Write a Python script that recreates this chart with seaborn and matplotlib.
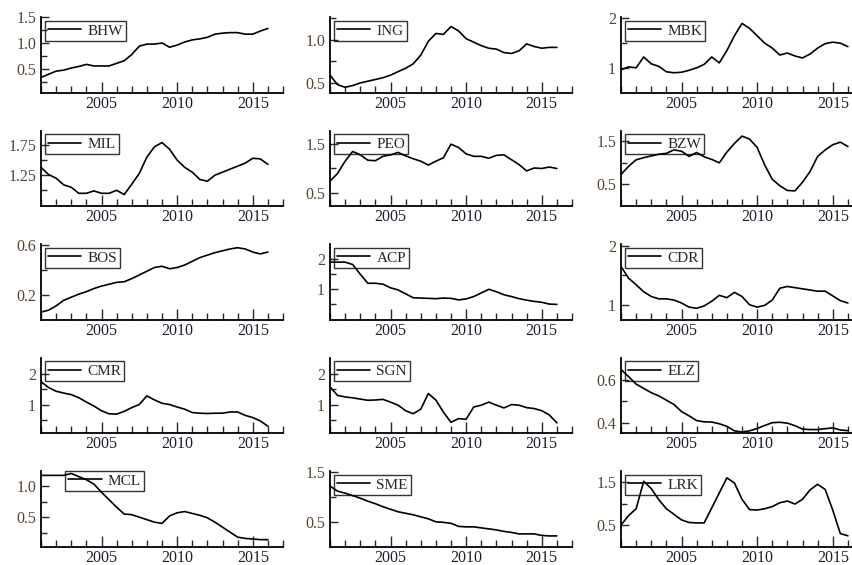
import numpy as np
import pandas as pd
import matplotlib
matplotlib.use("Agg")
import matplotlib.pyplot as plt
from matplotlib.ticker import MultipleLocator
import seaborn as sns

sns.set_style("ticks")
plt.rcParams['font.family'] = ['Liberation Serif', 'DejaVu Serif']

# half-year sampling, 2001 - 2016
years = np.arange(2001.0, 2016.01, 0.5)

BHW = [0.34, 0.40, 0.46, 0.48, 0.52, 0.55, 0.59, 0.56, 0.56, 0.56, 0.61, 0.66, 0.78, 0.94, 0.98, 0.98,
       1.00, 0.92, 0.96, 1.02, 1.06, 1.08, 1.11, 1.17, 1.19, 1.20, 1.20, 1.17, 1.17, 1.23, 1.28]
ING = [0.59, 0.48, 0.45, 0.47, 0.50, 0.52, 0.54, 0.56, 0.59, 0.63, 0.67, 0.72, 0.82, 0.98, 1.07, 1.06,
       1.15, 1.10, 1.01, 0.97, 0.93, 0.90, 0.89, 0.85, 0.84, 0.87, 0.95, 0.92, 0.90, 0.91, 0.91]
MBK = [0.96, 1.02, 1.00, 1.22, 1.08, 1.03, 0.92, 0.90, 0.91, 0.95, 1.00, 1.07, 1.22, 1.10, 1.35, 1.65,
       1.90, 1.80, 1.65, 1.50, 1.40, 1.26, 1.30, 1.24, 1.20, 1.28, 1.40, 1.49, 1.52, 1.50, 1.43]
MIL = [1.38, 1.26, 1.20, 1.09, 1.05, 0.95, 0.95, 0.99, 0.95, 0.95, 1.00, 0.93, 1.10, 1.28, 1.55, 1.72,
       1.79, 1.68, 1.50, 1.38, 1.30, 1.18, 1.15, 1.25, 1.30, 1.35, 1.40, 1.45, 1.53, 1.52, 1.43]
PEO = [0.74, 0.90, 1.15, 1.35, 1.28, 1.17, 1.16, 1.25, 1.28, 1.33, 1.26, 1.20, 1.15, 1.07, 1.15, 1.22,
       1.50, 1.43, 1.30, 1.25, 1.25, 1.21, 1.27, 1.28, 1.18, 1.08, 0.95, 1.01, 1.00, 1.03, 1.00]
BZW = [0.73, 0.92, 1.07, 1.12, 1.16, 1.20, 1.22, 1.30, 1.27, 1.15, 1.24, 1.14, 1.08, 1.00, 1.25, 1.45,
       1.62, 1.55, 1.36, 0.95, 0.62, 0.47, 0.36, 0.35, 0.55, 0.80, 1.15, 1.30, 1.42, 1.48, 1.38]
BOS = [0.06, 0.075, 0.11, 0.155, 0.18, 0.205, 0.225, 0.25, 0.27, 0.285, 0.30, 0.305, 0.33, 0.36, 0.39, 0.42,
       0.43, 0.41, 0.42, 0.44, 0.47, 0.50, 0.52, 0.54, 0.555, 0.57, 0.58, 0.57, 0.545, 0.53, 0.545]
ACP = [1.90, 1.90, 1.90, 1.82, 1.50, 1.20, 1.20, 1.17, 1.05, 0.98, 0.85, 0.72, 0.71, 0.70, 0.69, 0.71,
       0.70, 0.65, 0.68, 0.76, 0.88, 1.00, 0.92, 0.82, 0.76, 0.69, 0.64, 0.60, 0.57, 0.51, 0.50]
CDR = [1.65, 1.45, 1.34, 1.22, 1.14, 1.10, 1.10, 1.08, 1.03, 0.96, 0.94, 0.98, 1.06, 1.16, 1.12, 1.21,
       1.14, 1.00, 0.96, 0.99, 1.08, 1.28, 1.31, 1.29, 1.27, 1.25, 1.23, 1.23, 1.15, 1.07, 1.03]
CMR = [1.74, 1.55, 1.43, 1.37, 1.32, 1.22, 1.08, 0.95, 0.80, 0.70, 0.69, 0.78, 0.90, 1.00, 1.28, 1.15,
       1.04, 1.00, 0.92, 0.85, 0.74, 0.72, 0.71, 0.72, 0.72, 0.76, 0.76, 0.65, 0.58, 0.47, 0.30]
SGN = [1.58, 1.30, 1.25, 1.22, 1.18, 1.14, 1.15, 1.17, 1.08, 0.98, 0.80, 0.70, 0.85, 1.36, 1.15, 0.75,
       0.42, 0.54, 0.52, 0.92, 0.98, 1.08, 0.98, 0.89, 1.00, 0.98, 0.90, 0.87, 0.80, 0.66, 0.40]
ELZ = [0.648, 0.615, 0.580, 0.560, 0.540, 0.525, 0.505, 0.485, 0.452, 0.432, 0.410, 0.404, 0.403, 0.395,
       0.383, 0.362, 0.357, 0.362, 0.373, 0.387, 0.400, 0.402, 0.398, 0.386, 0.370, 0.368, 0.368, 0.372,
       0.376, 0.366, 0.363]
MCL = [1.17, 1.17, 1.17, 1.17, 1.20, 1.15, 1.10, 1.03, 0.90, 0.78, 0.66, 0.55, 0.54, 0.50, 0.46, 0.42,
       0.40, 0.52, 0.57, 0.59, 0.56, 0.53, 0.49, 0.42, 0.34, 0.26, 0.18, 0.16, 0.15, 0.14, 0.14]
SME = [1.22, 1.12, 1.08, 1.03, 0.98, 0.92, 0.87, 0.81, 0.76, 0.71, 0.68, 0.65, 0.61, 0.57, 0.51, 0.50,
       0.48, 0.42, 0.41, 0.41, 0.39, 0.37, 0.35, 0.32, 0.30, 0.27, 0.27, 0.27, 0.24, 0.23, 0.23]
LRK = [0.50, 0.72, 0.88, 1.52, 1.35, 1.09, 0.88, 0.75, 0.62, 0.56, 0.55, 0.55, 0.90, 1.25, 1.60, 1.48,
       1.10, 0.86, 0.85, 0.88, 0.93, 1.02, 1.06, 0.99, 1.10, 1.32, 1.45, 1.33, 0.85, 0.30, 0.25]

names = ["BHW", "ING", "MBK",
         "MIL", "PEO", "BZW",
         "BOS", "ACP", "CDR",
         "CMR", "SGN", "ELZ",
         "MCL", "SME", "LRK"]
values = [BHW, ING, MBK, MIL, PEO, BZW, BOS, ACP, CDR, CMR, SGN, ELZ, MCL, SME, LRK]

df = pd.concat([pd.DataFrame({"year": years, "value": v, "bank": n}) for n, v in zip(names, values)])

# y axis: limits, labelled ticks, small ticks, label format
yaxis = {
    "BHW": ((0.05, 1.5), [0.5, 1.0, 1.5], [0.25, 0.75, 1.25], "%.1f"),
    "ING": ((0.39, 1.26), [0.5, 1.0], [0.75, 1.25], "%.1f"),
    "MBK": ((0.5, 2.03), [1, 2], [1.5], "%.0f"),
    "MIL": ((0.74, 1.99), [1.25, 1.75], [1.0, 1.5], "%.2f"),
    "PEO": ((0.23, 1.78), [0.5, 1.5], [1.0], "%.1f"),
    "BZW": ((0.0, 1.75), [0.5, 1.5], [1.0], "%.1f"),
    "BOS": ((0.0, 0.61), [0.2, 0.6], [0.4], "%.1f"),
    "ACP": ((0.0, 2.5), [1, 2], [0.5, 1.5], "%.0f"),
    "CDR": ((0.75, 2.03), [1, 2], [1.5], "%.0f"),
    "CMR": ((0.08, 2.52), [1, 2], [0.5, 1.5], "%.0f"),
    "SGN": ((0.07, 2.54), [1, 2], [0.5, 1.5], "%.0f"),
    "ELZ": ((0.352, 0.704), [0.4, 0.6], [0.5], "%.1f"),
    "MCL": ((0.03, 1.24), [0.5, 1.0], [0.25, 0.75], "%.1f"),
    "SME": ((0.02, 1.52), [0.5, 1.5], [1.0], "%.1f"),
    "LRK": ((0.0, 1.76), [0.5, 1.5], [1.0], "%.1f"),
}

W, H = 853, 565
fig = plt.figure(figsize=(W / 100, H / 100), dpi=100)
col_left = [41, 330, 621]
ax_w, ax_h = 242, 75.5

for i, name in enumerate(names):
    r, c = divmod(i, 3)
    top = 17 + 113.5 * r
    ax = fig.add_axes([col_left[c] / W, 1 - (top + ax_h) / H, ax_w / W, ax_h / H])
    sns.lineplot(data=df[df.bank == name], x="year", y="value", color="black",
                 linewidth=1.2, label=name, ax=ax)
    ax.set_xlabel("")
    ax.set_ylabel("")
    sns.despine(ax=ax)
    for s in ["left", "bottom"]:
        ax.spines[s].set_linewidth(1.3)
        ax.spines[s].set_color("black")

    ax.set_xlim(2001, 2017)
    ax.set_xticks([2005, 2010, 2015])
    ax.xaxis.set_minor_locator(MultipleLocator(1))
    lim, major, minor, fmt = yaxis[name]
    ax.set_ylim(*lim)
    ax.set_yticks(major)
    ax.set_yticklabels([fmt % t for t in major])
    ax.set_yticks(minor, minor=True)

    ax.tick_params(axis="x", which="major", direction="in", length=8, width=1.0,
                   pad=2.5, labelsize=11.5, labelcolor="#1e1e2e")
    ax.tick_params(axis="x", which="minor", direction="in", length=5, width=1.0)
    ax.tick_params(axis="y", which="major", direction="in", length=6, width=1.0,
                   pad=3.5, labelsize=11.5, labelcolor="#54442c")
    ax.tick_params(axis="y", which="minor", direction="in", length=4, width=1.0)

    anchor = (0.1, 1.0) if name == "MCL" else (0.015, 0.95)
    leg = ax.legend(loc="upper left", bbox_to_anchor=anchor, borderaxespad=0, fontsize=11,
                    handlelength=2.2, handletextpad=0.4, borderpad=0.2,
                    fancybox=False, edgecolor="black", facecolor="none")
    leg.get_frame().set_linewidth(1.0)

fig.savefig("out.png", dpi=100)
